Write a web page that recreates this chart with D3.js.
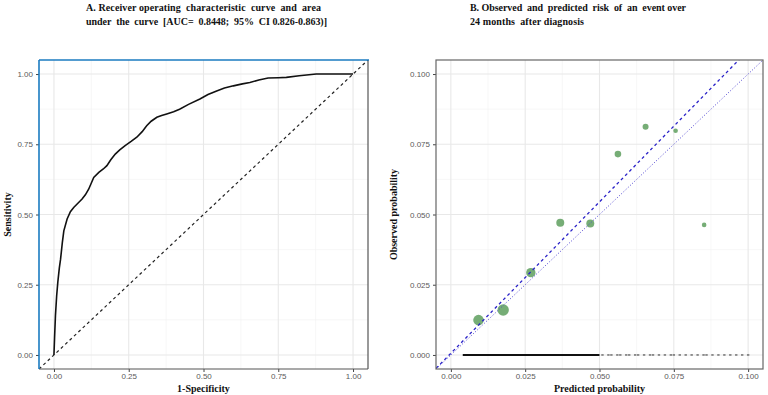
<!DOCTYPE html>
<html>
<head>
<meta charset="utf-8">
<script src="https://cdn.jsdelivr.net/npm/d3@7"></script>
<style>
  body { margin: 0; background: #fff; }
  svg { display: block; }
  .tick text { font-family: "Liberation Sans", Arial, sans-serif; font-size: 8px; fill: #5a5a5a; }
  .ttl { font-family: "Liberation Serif", "Times New Roman", serif; font-weight: bold; font-size: 10px; fill: #111; }
</style>
</head>
<body>
<div id="chart"></div>
<script>
const width = 768;
const height = 395;

// ROC curve (panel A)
const rocFpr = [0, 0.002, 0.005, 0.009, 0.013, 0.018, 0.022, 0.028, 0.033, 0.044, 0.055, 0.066, 0.08, 0.094, 0.105, 0.116, 0.125, 0.133, 0.15, 0.165, 0.177, 0.19, 0.205, 0.22, 0.238, 0.258, 0.277, 0.295, 0.31, 0.325, 0.344, 0.36, 0.377, 0.4, 0.42, 0.45, 0.488, 0.515, 0.544, 0.57, 0.6, 0.63, 0.655, 0.685, 0.716, 0.75, 0.777, 0.82, 0.877, 0.94, 1.0];
const rocTpr = [0, 0.06, 0.14, 0.21, 0.26, 0.31, 0.34, 0.4, 0.442, 0.484, 0.51, 0.525, 0.54, 0.555, 0.57, 0.59, 0.612, 0.632, 0.65, 0.662, 0.674, 0.695, 0.715, 0.73, 0.745, 0.76, 0.775, 0.795, 0.816, 0.832, 0.846, 0.852, 0.858, 0.866, 0.875, 0.892, 0.911, 0.927, 0.94, 0.95, 0.958, 0.965, 0.97, 0.979, 0.986, 0.987, 0.988, 0.994, 1.0, 1.0, 1.0];
const rocTicks = [0, 0.25, 0.5, 0.75, 1];

// calibration (panel B)
const predicted = [0.0093, 0.0176, 0.0269, 0.0368, 0.0469, 0.0562, 0.0655, 0.0756, 0.0852];
const observed = [0.0124, 0.0160, 0.0293, 0.0471, 0.0468, 0.0715, 0.0812, 0.0798, 0.0463];
const binCount = [1120, 1300, 880, 640, 640, 436, 360, 212, 212];
const fitIntercept = 0.0006;
const fitSlope = 1.078;
const rugDense = [0.004, 0.050];
const rugSparse = [0.051, 0.053, 0.054, 0.056, 0.057, 0.059, 0.060, 0.062, 0.063, 0.065, 0.067, 0.068, 0.070, 0.072, 0.074, 0.075, 0.077, 0.079, 0.081, 0.083, 0.085, 0.086, 0.088, 0.090, 0.092, 0.094, 0.096, 0.098, 0.100];
const calTicks = [0, 0.025, 0.05, 0.075, 0.1];

const titleA = ["A. Receiver operating  characteristic  curve  and  area", "under  the  curve  [AUC=  0.8448;  95%  CI 0.826-0.863)]"];
const titleB = ["B. Observed  and  predicted  risk  of  an  event over", "24 months  after diagnosis"];

const svg = d3.select("#chart").append("svg")
  .attr("width", width)
  .attr("height", height);

function panel(box, xDom, yDom, ticks, fmt, minors, id) {
  const x = d3.scaleLinear().domain(xDom).range([box.left, box.right]);
  const y = d3.scaleLinear().domain(yDom).range([box.bottom, box.top]);
  const g = svg.append("g");
  g.append("clipPath").attr("id", id)
    .append("rect")
    .attr("x", box.left).attr("y", box.top)
    .attr("width", box.right - box.left).attr("height", box.bottom - box.top);

  // minor grid
  g.selectAll(".mx").data(minors).join("line")
    .attr("x1", d => x(d)).attr("x2", d => x(d))
    .attr("y1", box.top).attr("y2", box.bottom)
    .attr("stroke", "#f2f2f2").attr("stroke-width", 0.6);
  g.selectAll(".my").data(minors).join("line")
    .attr("y1", d => y(d)).attr("y2", d => y(d))
    .attr("x1", box.left).attr("x2", box.right)
    .attr("stroke", "#f2f2f2").attr("stroke-width", 0.6);
  // major grid
  g.selectAll(".gx").data(ticks).join("line")
    .attr("x1", d => x(d)).attr("x2", d => x(d))
    .attr("y1", box.top).attr("y2", box.bottom)
    .attr("stroke", "#e8e8e8").attr("stroke-width", 1.1);
  g.selectAll(".gy").data(ticks).join("line")
    .attr("y1", d => y(d)).attr("y2", d => y(d))
    .attr("x1", box.left).attr("x2", box.right)
    .attr("stroke", "#e8e8e8").attr("stroke-width", 1.1);

  const xAxis = d3.axisBottom(x).tickValues(ticks).tickFormat(fmt).tickSize(3).tickPadding(1.5);
  const yAxis = d3.axisLeft(y).tickValues(ticks).tickFormat(fmt).tickSize(3).tickPadding(3);
  const ax = g.append("g").attr("transform", `translate(0,${box.bottom})`).call(xAxis);
  const ay = g.append("g").attr("transform", `translate(${box.left},0)`).call(yAxis);
  [ax, ay].forEach(a => {
    a.select(".domain").remove();
    a.selectAll(".tick line").attr("stroke", "#444");
  });
  return { x, y, g };
}

// ---------- Panel A ----------
const boxA = { left: 39, right: 368, top: 60, bottom: 369 };
const A = panel(boxA, [-0.05, 1.05], [-0.05, 1.05], rocTicks, d3.format(".2f"), [0.125, 0.375, 0.625, 0.875], "clipA");

A.g.append("line")
  .attr("clip-path", "url(#clipA)")
  .attr("x1", A.x(-0.05)).attr("y1", A.y(-0.05))
  .attr("x2", A.x(1.05)).attr("y2", A.y(1.05))
  .attr("stroke", "#222").attr("stroke-width", 1.2)
  .attr("stroke-dasharray", "3,3");

const rocLine = d3.line()
  .x((d, i) => A.x(rocFpr[i]))
  .y(d => A.y(d));
A.g.append("path")
  .datum(rocTpr)
  .attr("fill", "none")
  .attr("stroke", "#111")
  .attr("stroke-width", 1.6)
  .attr("d", rocLine);

// frame: blue on top/left, grey on right/bottom
A.g.append("line").attr("x1", boxA.right).attr("x2", boxA.right).attr("y1", boxA.top).attr("y2", boxA.bottom)
  .attr("stroke", "#555").attr("stroke-width", 1.2);
A.g.append("line").attr("x1", boxA.left).attr("x2", boxA.right).attr("y1", boxA.bottom).attr("y2", boxA.bottom)
  .attr("stroke", "#555").attr("stroke-width", 1.2);
A.g.append("line").attr("x1", boxA.left).attr("x2", boxA.right + 1).attr("y1", boxA.top).attr("y2", boxA.top)
  .attr("stroke", "#1b7bc1").attr("stroke-width", 1.6);
A.g.append("line").attr("x1", boxA.left).attr("x2", boxA.left).attr("y1", boxA.top).attr("y2", boxA.bottom)
  .attr("stroke", "#1b7bc1").attr("stroke-width", 1.6);

// ---------- Panel B ----------
const boxB = { left: 436, right: 763, top: 60, bottom: 369 };
const B = panel(boxB, [-0.005, 0.105], [-0.005, 0.105], calTicks, d3.format(".3f"), [0.0125, 0.0375, 0.0625, 0.0875], "clipB");

// rug of predictions with no event
B.g.append("line")
  .attr("x1", B.x(rugDense[0])).attr("x2", B.x(rugDense[1]))
  .attr("y1", B.y(0)).attr("y2", B.y(0))
  .attr("stroke", "#111").attr("stroke-width", 2);
B.g.selectAll(".rug").data(rugSparse).join("rect")
  .attr("x", d => B.x(d) - 1.2).attr("y", B.y(0) - 0.8)
  .attr("width", 2.4).attr("height", 1.6)
  .attr("fill", "#444").attr("opacity", 0.7);

const r = d3.scaleSqrt().domain([0, d3.max(binCount)]).range([0, 5.7]);
B.g.selectAll(".pt").data(predicted).join("circle")
  .attr("cx", d => B.x(d))
  .attr("cy", (d, i) => B.y(observed[i]))
  .attr("r", (d, i) => r(binCount[i]))
  .attr("fill", "#5e9f5e").attr("opacity", 0.85);

const lo = -0.005, hi = 0.105;
B.g.append("line")
  .attr("clip-path", "url(#clipB)")
  .attr("x1", B.x(lo)).attr("y1", B.y(lo))
  .attr("x2", B.x(hi)).attr("y2", B.y(hi))
  .attr("stroke", "#4a3fd0").attr("stroke-width", 1)
  .attr("stroke-dasharray", "1,2");
B.g.append("line")
  .attr("clip-path", "url(#clipB)")
  .attr("x1", B.x(lo)).attr("y1", B.y(fitIntercept + fitSlope * lo))
  .attr("x2", B.x(hi)).attr("y2", B.y(fitIntercept + fitSlope * hi))
  .attr("stroke", "#2a22c8").attr("stroke-width", 1.3)
  .attr("stroke-dasharray", "3,3");

B.g.append("rect")
  .attr("x", boxB.left).attr("y", boxB.top)
  .attr("width", boxB.right - boxB.left).attr("height", boxB.bottom - boxB.top)
  .attr("fill", "none").attr("stroke", "#666").attr("stroke-width", 1.2);

// ---------- titles ----------
function title(lines, x0, widths) {
  lines.forEach((t, i) => {
    svg.append("text").attr("class", "ttl")
      .attr("x", x0).attr("y", 11 + i * 14)
      .attr("textLength", widths[i]).attr("lengthAdjust", "spacing")
      .style("white-space", "pre")
      .text(t);
  });
}
title(titleA, 86, [235, 241]);
title(titleB, 470, [216, 114]);

svg.append("text").attr("class", "ttl")
  .attr("x", (boxA.left + boxA.right) / 2).attr("y", 392)
  .attr("text-anchor", "middle").text("1-Specificity");
svg.append("text").attr("class", "ttl")
  .attr("x", (boxB.left + boxB.right) / 2).attr("y", 392)
  .attr("text-anchor", "middle").text("Predicted probability");
svg.append("text").attr("class", "ttl")
  .attr("transform", `translate(11, ${(boxA.top + boxA.bottom) / 2}) rotate(-90)`)
  .attr("text-anchor", "middle").text("Sensitivity");
svg.append("text").attr("class", "ttl")
  .attr("transform", `translate(397, ${(boxB.top + boxB.bottom) / 2}) rotate(-90)`)
  .attr("text-anchor", "middle").text("Observed probability");
</script>
</body>
</html>
